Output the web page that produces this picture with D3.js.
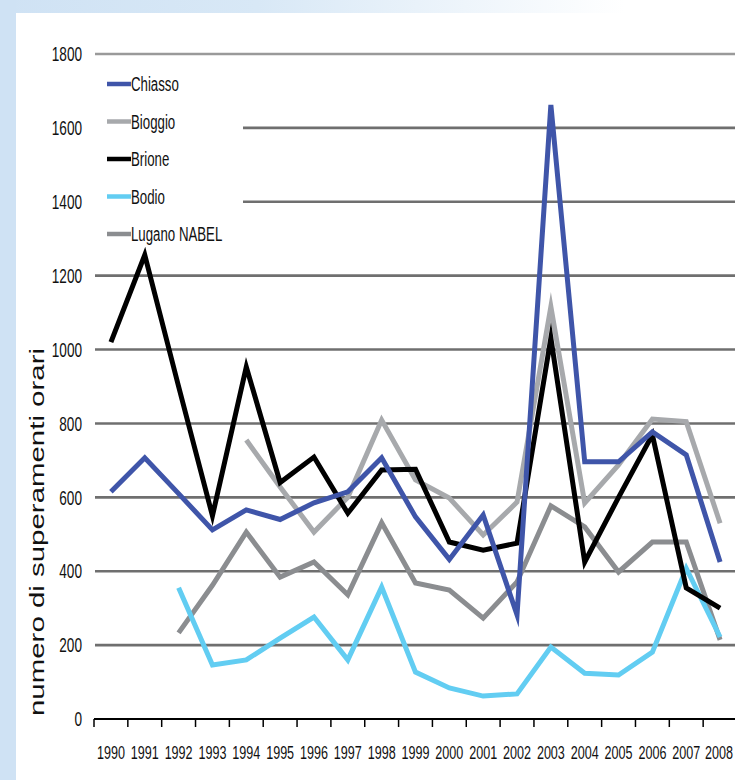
<!DOCTYPE html>
<html><head><meta charset="utf-8">
<script src="https://cdn.jsdelivr.net/npm/d3@7/dist/d3.min.js"></script>
<style>html,body{margin:0;padding:0;background:#fff;}svg{display:block;}</style>
</head><body>
<script>
const years = ["1990","1991","1992","1993","1994","1995","1996","1997","1998","1999","2000","2001","2002","2003","2004","2005","2006","2007","2008"];
const chiasso = [615,707,610,512,566,540,585,615,707,547,432,552,282,1662,696,696,777,715,425];
const bioggio = [null,null,null,null,755,628,506,600,809,647,598,498,587,1116,585,688,812,805,530];
const brione  = [1020,1256,900,550,953,640,709,557,674,676,479,457,476,1031,425,600,769,355,300];
const bodio   = [null,null,355,146,160,219,276,160,357,127,84,62,68,195,124,119,181,408,222];
const lugano  = [null,null,233,362,506,384,425,336,531,368,349,273,371,577,520,398,479,479,214];
const yTicks = [0,200,400,600,800,1000,1200,1400,1600,1800];
const seriesNames = ["Chiasso","Bioggio","Brione","Bodio","Lugano NABEL"];
const seriesValues = [chiasso, bioggio, brione, bodio, lugano];
const seriesColors = ["#3f55a9","#a7a9ac","#000000","#62cdf2","#8b8d90"];
const yTitle = "numero di superamenti orari";

const W = 735, H = 780;
const svg = d3.select("body").append("svg").attr("width", W).attr("height", H);
const defs = svg.append("defs");
const grad = defs.append("linearGradient").attr("id","topg").attr("x1","0").attr("x2","1").attr("y1","0").attr("y2","0");
grad.append("stop").attr("offset","0").attr("stop-color","#cfe2f4");
grad.append("stop").attr("offset","0.35").attr("stop-color","#d8e8f6");
grad.append("stop").attr("offset","0.85").attr("stop-color","#ffffff");
svg.append("rect").attr("width",W).attr("height",H).attr("fill","#fff");
svg.append("rect").attr("x",0).attr("y",0).attr("width",W).attr("height",13).attr("fill","url(#topg)");
svg.append("rect").attr("x",0).attr("y",0).attr("width",16).attr("height",H).attr("fill","#cfe2f4");

const FONT = "'Liberation Sans', Arial, sans-serif";
const COND = 0.68;
// draw condensed text: position via translate, compress horizontally via scale
function ctext(parent, data, opts){
  return parent.selectAll(null).data(data).join("text")
    .attr("transform", (d,i)=>`translate(${opts.x(d,i)},${opts.y(d,i)}) scale(${COND},1)`)
    .attr("dy","0.36em").attr("text-anchor", opts.anchor)
    .attr("font-family", FONT).attr("font-size", opts.size).attr("fill","#111")
    .text(opts.text);
}

const x = d3.scaleBand().domain(years).range([94, 737]);
const y = d3.scaleLinear().domain([0,1800]).range([719, 54]);

// gridlines
const grid = svg.append("g");
grid.selectAll("line").data(yTicks.filter(d=>d>0)).join("line")
  .attr("x1", 95).attr("x2", W).attr("y1", d=>y(d)).attr("y2", d=>y(d))
  .attr("stroke", d => d===1800 ? "#9a9a9a" : "#6f6f6f").attr("stroke-width", 2.6);

// y tick labels
ctext(svg.append("g"), yTicks, {x:()=>82, y:d=>y(d), anchor:"end", size:20, text:d=>d});

// x axis
svg.append("line").attr("x1",94).attr("x2",W).attr("y1",719).attr("y2",719).attr("stroke","#000").attr("stroke-width",2);
svg.append("g").selectAll("line").data(years).join("line")
  .attr("x1", d=>x(d)).attr("x2", d=>x(d)).attr("y1",719).attr("y2",727)
  .attr("stroke","#000").attr("stroke-width",1.5);
ctext(svg.append("g"), years, {x:d=>x(d)+x.bandwidth()/2 - (d==="2008"?1:0), y:()=>752, anchor:"middle", size:18.5, text:d=>d});

// y title
svg.append("text").attr("transform","translate(44,532) rotate(-90)")
  .attr("text-anchor","middle").attr("font-family", FONT).attr("font-size", 20)
  .attr("fill","#111").attr("textLength", 368).attr("lengthAdjust","spacingAndGlyphs").text(yTitle);

// legend background
svg.append("rect").attr("x",94).attr("y",64).attr("width",149).attr("height",194).attr("fill","#fff");

// series
const line = d3.line().defined(d=>d.v!==null).x(d=>x(d.year)+x.bandwidth()/2).y(d=>y(d.v));
const order = [4,3,1,2,0];
svg.append("g").selectAll("path").data(order).join("path")
  .attr("d", i => line(years.map((yr,j)=>({year:yr, v:seriesValues[i][j]}))))
  .attr("fill","none").attr("stroke", i=>seriesColors[i]).attr("stroke-width", 5)
  .attr("stroke-linejoin","miter").attr("stroke-miterlimit", 10);

// legend
const lg = svg.append("g");
lg.selectAll("line").data(seriesNames).join("line")
  .attr("x1",107).attr("x2",131).attr("y1",(d,i)=>84+i*37.5).attr("y2",(d,i)=>84+i*37.5)
  .attr("stroke",(d,i)=>seriesColors[i]).attr("stroke-width",4.5);
ctext(lg, seriesNames, {x:()=>131, y:(d,i)=>84+i*37.5, anchor:"start", size:19.5, text:d=>d});
</script>
</body></html>
